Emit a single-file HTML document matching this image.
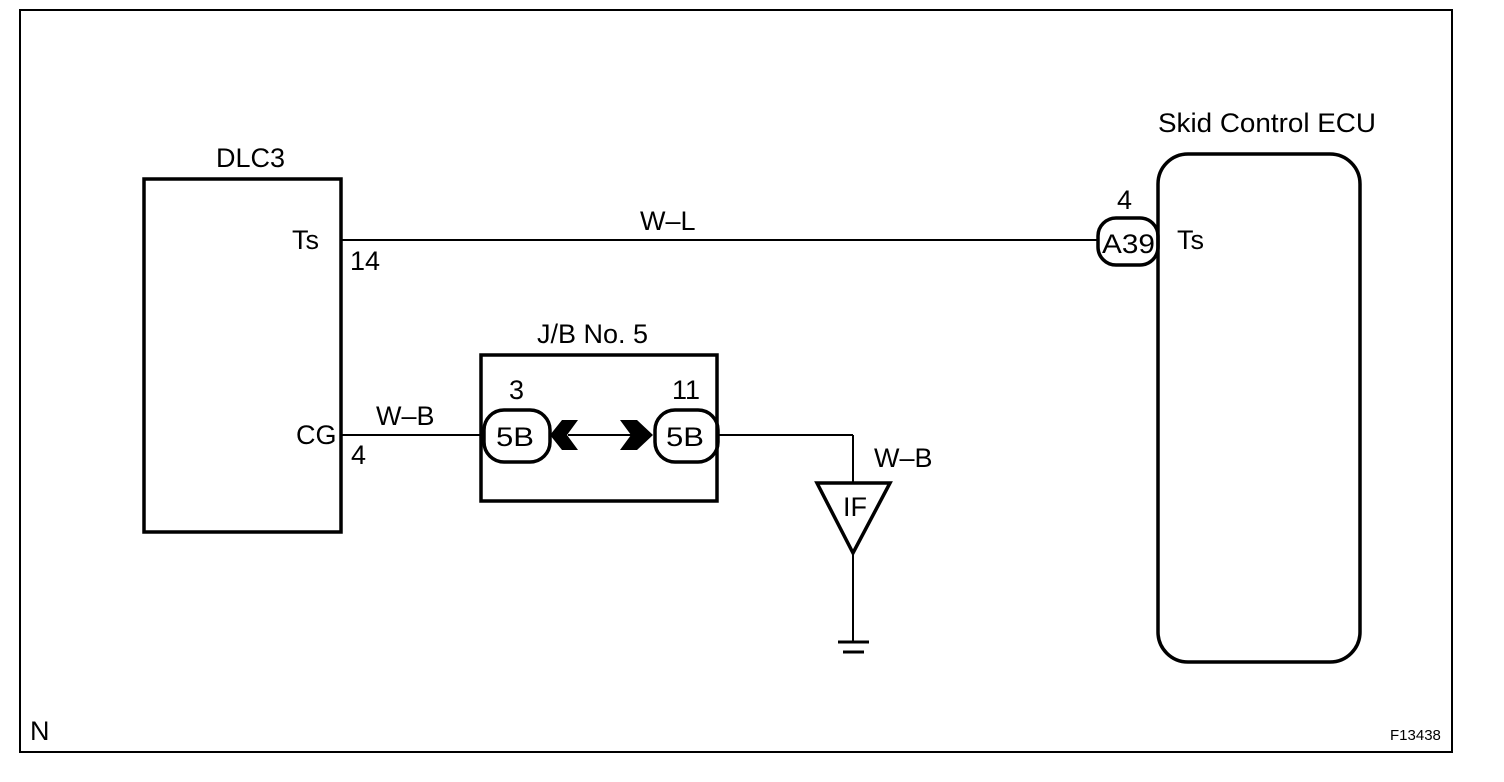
<!DOCTYPE html>
<html><head><style>body{margin:0;background:#fff}svg{display:block}text{font-family:"Liberation Sans",sans-serif;fill:#000}</style></head><body>
<svg width="1504" height="782" viewBox="0 0 1504 782">
<rect x="20" y="10" width="1432" height="742" fill="none" stroke="#000" stroke-width="2"/>
<g fill="none" stroke="#000">
<rect x="144" y="179" width="197" height="353" stroke-width="3.5"/>
<rect x="1158" y="154" width="202" height="508" rx="30" stroke-width="3.5"/>
<rect x="481" y="355" width="236" height="146" stroke-width="3.5"/>
<line x1="341" y1="240" x2="1098" y2="240" stroke-width="2"/>
<rect x="1098" y="218" width="60" height="47" rx="18" stroke-width="3.5"/>
<line x1="341" y1="435" x2="483" y2="435" stroke-width="2"/>
<rect x="484" y="410" width="66" height="52" rx="20" stroke-width="3.5"/>
<rect x="655" y="410" width="63" height="52" rx="20" stroke-width="3.5"/>
<line x1="568" y1="435" x2="640" y2="435" stroke-width="2"/>
<line x1="718" y1="435" x2="853" y2="435" stroke-width="2"/>
<line x1="853" y1="435" x2="853" y2="482" stroke-width="2"/>
<polygon points="817,483 890,483 853,553" stroke-width="3.5"/>
<line x1="853" y1="553" x2="853" y2="642" stroke-width="2"/>
<line x1="838" y1="642" x2="869" y2="642" stroke-width="3"/>
<line x1="843" y1="652" x2="864" y2="652" stroke-width="3"/>
</g>
<polygon points="550,435 562,420 578,420 567,435 578,450 562,450" fill="#000"/>
<polygon points="620,420 637,420 653,435 637,450 620,450 631,435" fill="#000"/>
<g font-size="27">
<text x="216" y="167">DLC3</text>
<text x="1158" y="132" textLength="218" lengthAdjust="spacingAndGlyphs">Skid Control ECU</text>
<text x="292" y="249">Ts</text>
<text x="350" y="270">14</text>
<text x="640" y="230">W–L</text>
<text x="1117" y="209">4</text>
<text x="1102" y="253" font-size="27" textLength="53" lengthAdjust="spacingAndGlyphs">A39</text>
<text x="1177" y="249">Ts</text>
<text x="537" y="343">J/B No. 5</text>
<text x="509" y="399">3</text>
<text x="672" y="399">11</text>
<text x="296" y="444">CG</text>
<text x="351" y="464">4</text>
<text x="376" y="425">W–B</text>
<text x="496" y="446" font-size="27" textLength="38" lengthAdjust="spacingAndGlyphs">5B</text>
<text x="666" y="446" font-size="27" textLength="38" lengthAdjust="spacingAndGlyphs">5B</text>
<text x="874" y="467">W–B</text>
<text x="843" y="516" font-size="27">IF</text>
<text x="30" y="740">N</text>
<text x="1390" y="740" font-size="15">F13438</text>
</g>
</svg>
</body></html>
